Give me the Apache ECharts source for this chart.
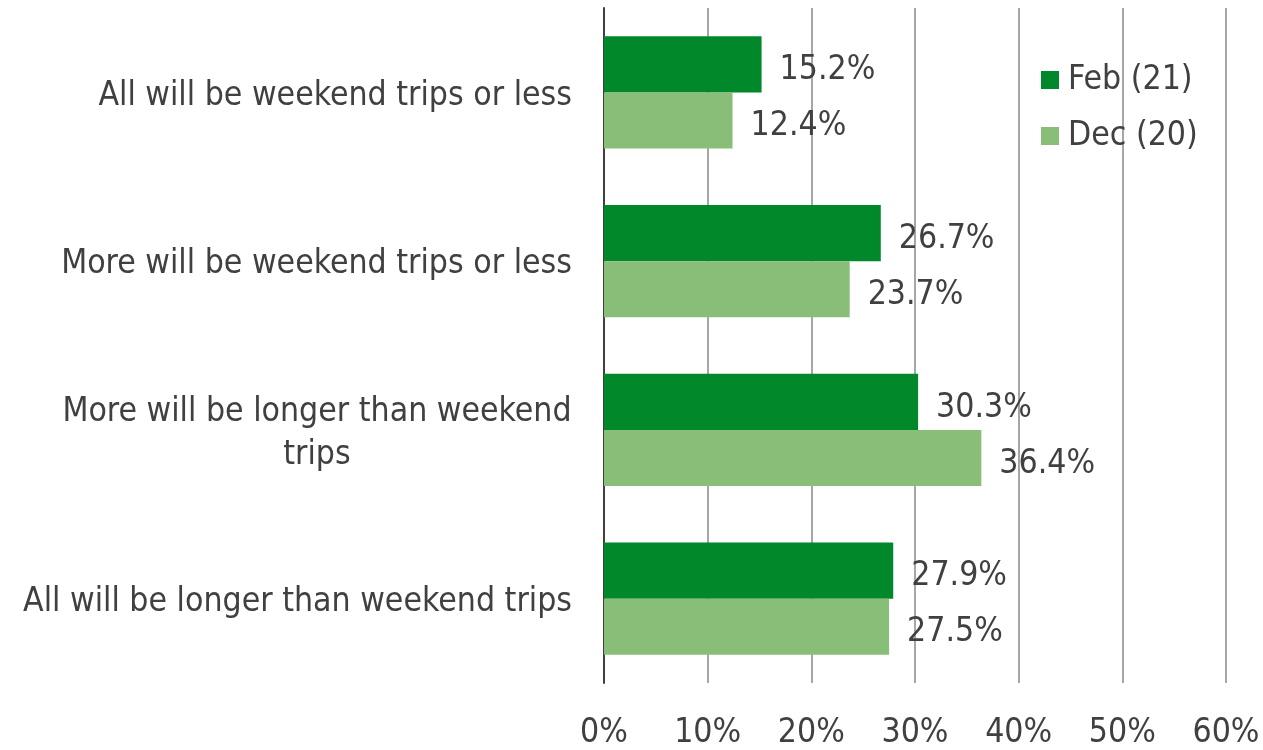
<!DOCTYPE html>
<html>
<head>
<meta charset="utf-8">
<script src="https://cdn.jsdelivr.net/npm/echarts@6/dist/echarts.min.js"></script>
<style>
html,body{margin:0;padding:0;background:#fff;}
#chart{width:1263px;height:750px;}
</style>
</head>
<body>
<div id="chart"></div>
<script>
const categories = [
  "All will be weekend trips or less",
  "More will be weekend trips or less",
  "More will be longer than weekend\ntrips",
  "All will be longer than weekend trips"
];
const seriesNames = ["Feb (21)", "Dec (20)"];
const febValues = [15.2, 26.7, 30.3, 27.9];
const decValues = [12.4, 23.7, 36.4, 27.5];
const tickLabels = ["0%", "10%", "20%", "30%", "40%", "50%", "60%"];

const FAMILY = "'DejaVu Sans Condensed', 'DejaVu Sans', sans-serif";
const ctx = document.createElement('canvas').getContext('2d');
function measure(t, size) { ctx.font = size + 'px ' + FAMILY; return ctx.measureText(t).width; }
let FS = 30;
for (let s = 22; s <= 36; s += 0.5) { if (measure(categories[0], s) <= 479) FS = s; }
const TEXT = '#404040';

const chart = echarts.init(document.getElementById('chart'));
chart.setOption({
  animation: false,
  backgroundColor: '#ffffff',
  textStyle: { fontFamily: FAMILY, fontSize: FS, color: TEXT },
  grid: { left: 604, right: 37, top: 8, bottom: 62, containLabel: false },
  legend: {
    orient: 'vertical',
    left: 1036,
    top: 58,
    itemWidth: 18,
    itemHeight: 18,
    itemGap: 22,
    icon: 'rect',
    textStyle: { fontFamily: FAMILY, fontSize: FS, color: TEXT, padding: [0, 0, 0, 4] },
    data: seriesNames
  },
  xAxis: {
    type: 'value',
    min: 0, max: 60, interval: 10,
    axisLine: { show: false },
    axisTick: { show: false },
    splitLine: { show: true, lineStyle: { color: '#a6a6a6', width: 2 } },
    axisLabel: {
      margin: 33,
      fontFamily: FAMILY, fontSize: FS, color: TEXT,
      formatter: function (v) { return tickLabels[Math.round(v / 10)]; }
    }
  },
  yAxis: {
    type: 'category',
    inverse: true,
    data: categories,
    axisLine: { show: true, lineStyle: { color: '#404040', width: 2 } },
    axisTick: { show: false },
    axisLabel: {
      margin: 32,
      fontFamily: FAMILY, fontSize: FS, color: TEXT,
      align: 'right',
      padding: [7, 0, 0, 0],
      formatter: function (v) {
        const lines = v.split('\n');
        if (lines.length === 1) return v;
        return lines.map(l => '{c|' + l + '}').join('\n');
      },
      rich: {
        c: {
          width: Math.ceil(measure(categories[2].split('\n')[0], FS)),
          align: 'center',
          fontFamily: FAMILY, fontSize: FS, color: TEXT, lineHeight: 43
        }
      }
    }
  },
  series: [
    {
      name: seriesNames[0], type: 'bar', data: febValues,
      barGap: '0%', barCategoryGap: '33.5%',
      itemStyle: { color: '#00882b' },
      label: { show: true, position: 'right', distance: 18, offset: [0, 6], fontFamily: FAMILY, fontSize: FS, color: TEXT,
               formatter: p => p.value.toFixed(1) + '%' }
    },
    {
      name: seriesNames[1], type: 'bar', data: decValues,
      barGap: '0%', barCategoryGap: '33.5%',
      itemStyle: { color: '#88be78' },
      label: { show: true, position: 'right', distance: 18, offset: [0, 6], fontFamily: FAMILY, fontSize: FS, color: TEXT,
               formatter: p => p.value.toFixed(1) + '%' }
    }
  ]
});
</script>
</body>
</html>
